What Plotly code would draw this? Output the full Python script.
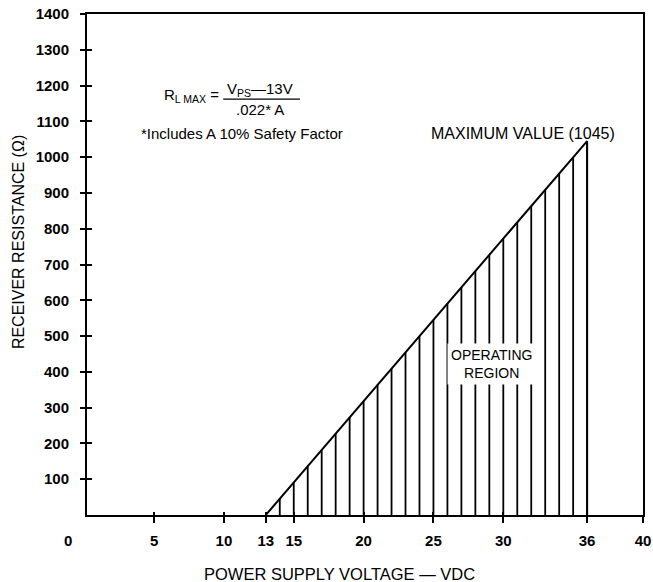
import plotly.graph_objects as go

# ---- data ----
boundary_volts = [13, 36, 36]          # operating-region outline (V)
boundary_ohms = [0, 1045, 0]           # R_L max at 13 V and 36 V
hatch_volts = list(range(14, 37))      # hatch lines every volt
hatch_ohms = [45, 91, 136, 182, 227, 273, 318, 364, 409, 455, 500, 545,
              591, 636, 682, 727, 773, 818, 864, 909, 955, 1000, 1045]
x_tick_vals = [5, 10, 13, 15, 20, 25, 30, 36, 40]
x_tick_text = ["5", "10", "13", "15", "20", "25", "30", "36", "40"]
y_tick_vals = [100, 200, 300, 400, 500, 600, 700, 800, 900, 1000, 1100,
               1200, 1300, 1400]
y_tick_text = [str(v) for v in y_tick_vals]

FONT = "Liberation Sans, Arial, sans-serif"

hx, hy = [], []
for v, h in zip(hatch_volts, hatch_ohms):
    hx += [v, v, None]
    hy += [0, h, None]

fig = go.Figure()
fig.add_trace(go.Scatter(x=hx, y=hy, mode="lines",
                         line=dict(color="black", width=1.8),
                         hoverinfo="skip", showlegend=False))
fig.add_trace(go.Scatter(x=boundary_volts, y=boundary_ohms, mode="lines",
                         line=dict(color="black", width=2),
                         hoverinfo="skip", showlegend=False))

axis_common = dict(showgrid=False, zeroline=False, color="black", automargin=False)

fig.update_layout(
    width=653, height=582,
    margin=dict(l=87, r=10, t=14, b=67),
    paper_bgcolor="white", plot_bgcolor="white",
    font=dict(family=FONT, color="black"),
    xaxis=dict(range=[0.2, 40], tickvals=x_tick_vals, ticktext=x_tick_text,
               ticks="outside", ticklen=6, tickwidth=1.5, tickcolor="black",
               showline=True, linewidth=2, linecolor="black", mirror=True,
               tickfont=dict(family=FONT, size=15, weight="bold"),
               ticklabelstandoff=5, ticklabeloverflow="allow",
               **axis_common),
    yaxis=dict(range=[0, 1400], tickvals=y_tick_vals, ticktext=y_tick_text,
               ticks="outside", ticklen=5, tickwidth=1.5, tickcolor="black",
               showline=True, linewidth=2, linecolor="black", mirror=True,
               tickfont=dict(family=FONT, size=15, weight="bold"),
               ticklabelstandoff=8,
               **axis_common),
    xaxis2=dict(overlaying="x", range=[0.2, 40], tickvals=x_tick_vals[:-1],
                ticks="inside", ticklen=3, tickwidth=1.5, tickcolor="black",
                showticklabels=False, showline=False, **axis_common),
    yaxis2=dict(overlaying="y", range=[0, 1400], tickvals=y_tick_vals[:-1],
                ticks="inside", ticklen=5, tickwidth=1.5, tickcolor="black",
                showticklabels=False, showline=False, **axis_common),
)
# invisible trace that activates the overlay tick axes
fig.add_trace(go.Scatter(x=[None], y=[None], xaxis="x2", yaxis="y2",
                         showlegend=False, hoverinfo="skip"))

ann = []
ann.append(dict(x=-0.122, y=0.545, xref="paper", yref="paper",
                text="RECEIVER RESISTANCE (Ω)", textangle=-90,
                xanchor="center", yanchor="middle", showarrow=False,
                font=dict(family=FONT, size=16)))
ann.append(dict(x=0.455, y=-0.117, xref="paper", yref="paper",
                text="POWER SUPPLY VOLTAGE — VDC",
                xanchor="center", yanchor="middle", showarrow=False,
                font=dict(family=FONT, size=16.5)))
ann.append(dict(x=9.8, y=1173, xref="x", yref="y", text="R<sub>L MAX</sub> =",
                xanchor="right", yanchor="middle", showarrow=False,
                font=dict(family=FONT, size=15)))
ann.append(dict(x=12.6, y=1190, xref="x", yref="y", text="V<sub>PS</sub>—13V",
                xanchor="center", yanchor="middle", showarrow=False,
                font=dict(family=FONT, size=15)))
ann.append(dict(x=12.6, y=1132, xref="x", yref="y", text=".022* A",
                xanchor="center", yanchor="middle", showarrow=False,
                font=dict(family=FONT, size=15)))
ann.append(dict(x=11.3, y=1067, xref="x", yref="y",
                text="*Includes A 10% Safety Factor",
                xanchor="center", yanchor="middle", showarrow=False,
                font=dict(family=FONT, size=15)))
ann.append(dict(x=31.4, y=1067, xref="x", yref="y", text="MAXIMUM VALUE (1045)",
                xanchor="center", yanchor="middle", showarrow=False,
                font=dict(family=FONT, size=16)))
ann.append(dict(x=29.15, y=423, xref="x", yref="y", text="OPERATING<br>REGION",
                xanchor="center", yanchor="middle", showarrow=False,
                bgcolor="white", borderpad=3,
                font=dict(family=FONT, size=14)))
ann.append(dict(x=-0.034, y=-0.05, xref="paper", yref="paper", text="<b>0</b>",
                xanchor="center", yanchor="middle", showarrow=False,
                font=dict(family=FONT, size=15)))
fig.update_layout(annotations=ann)
fig.add_shape(type="line", xref="x", yref="y", x0=9.95, x1=15.45, y0=1162, y1=1162,
              line=dict(color="black", width=1.2))

fig.write_html("out.html",
               config={"displayModeBar": False},
               post_script="document.body.style.margin='0';"
                           "document.body.style.overflow='hidden';")
